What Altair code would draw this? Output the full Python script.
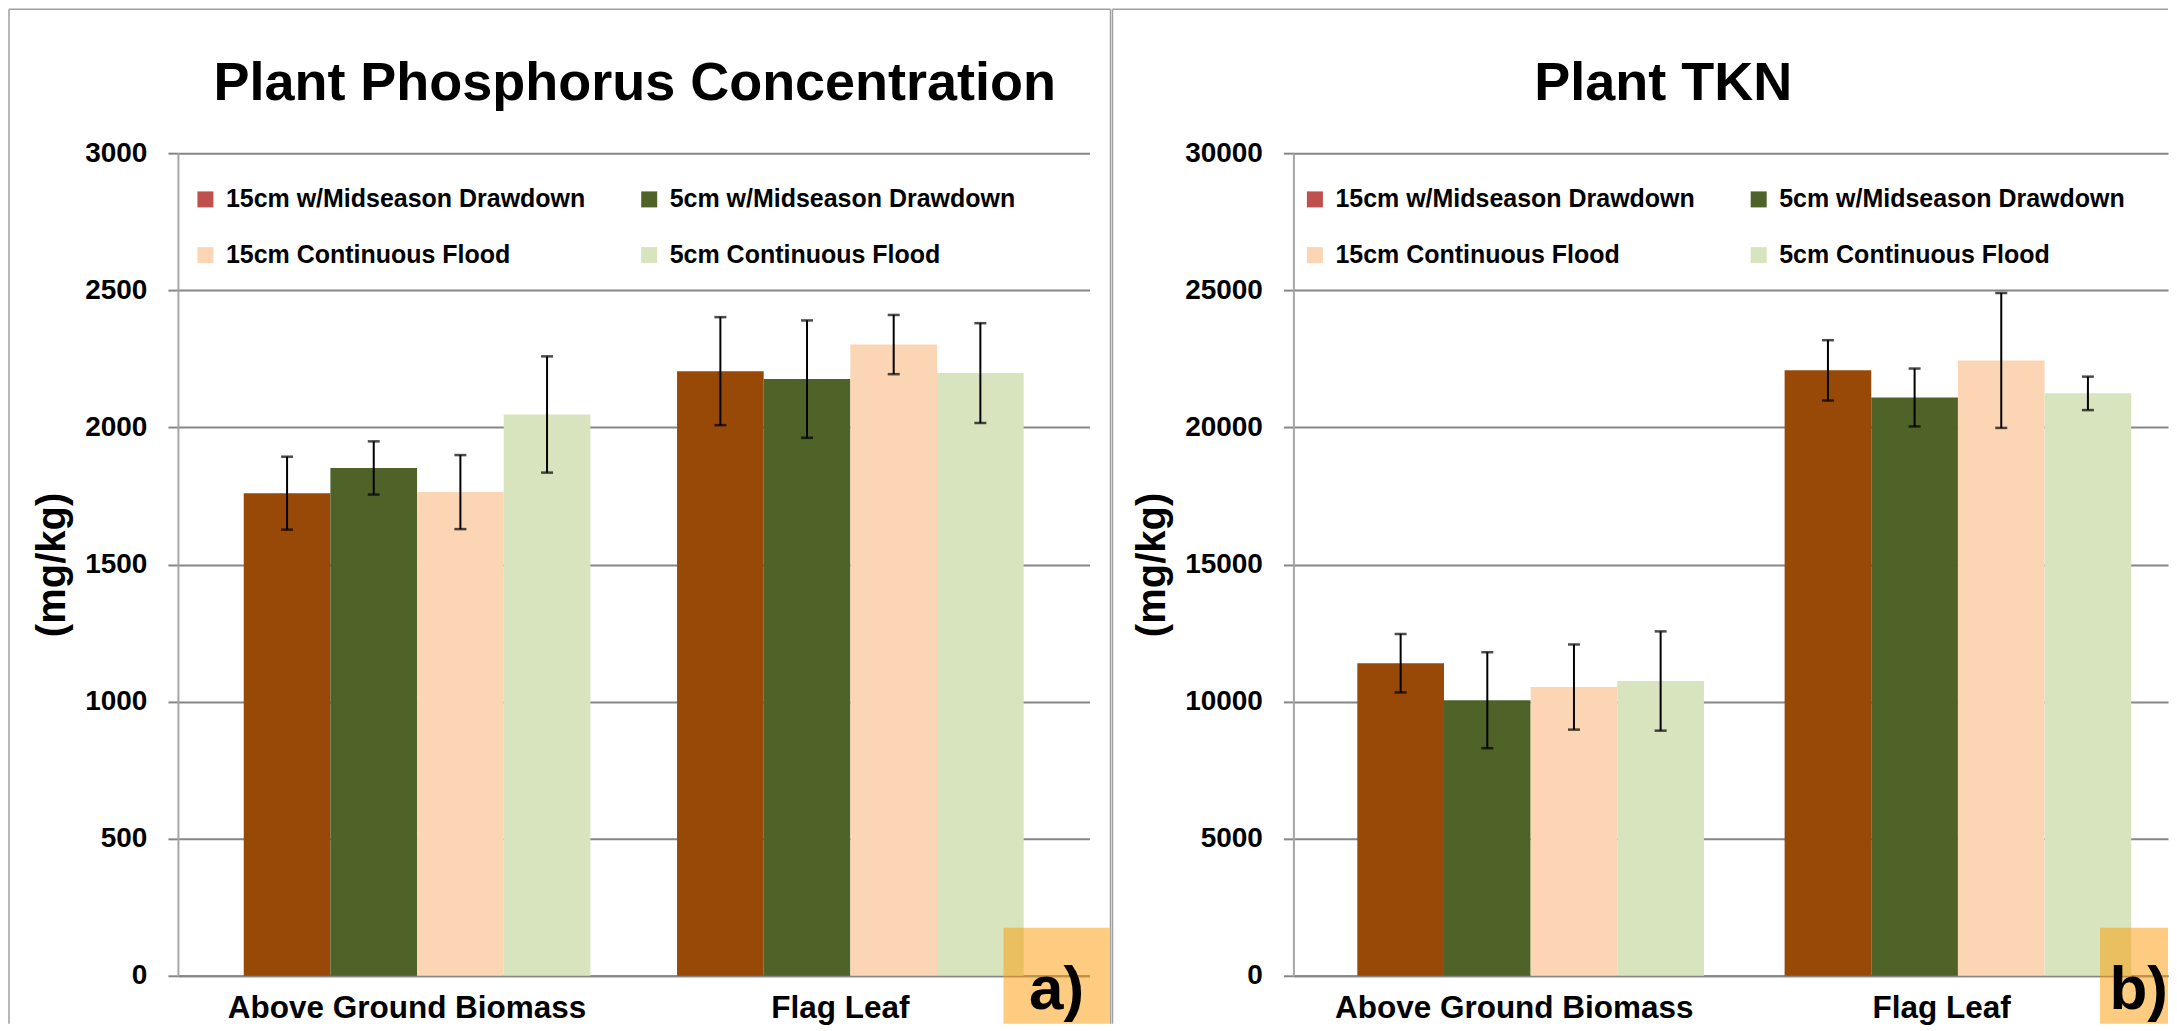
import altair as alt
import pandas as pd

# ---------------- data ----------------
categories = ["Above Ground Biomass", "Flag Leaf"]
series = ["15cm w/Midseason Drawdown", "5cm w/Midseason Drawdown",
          "15cm Continuous Flood", "5cm Continuous Flood"]
bar_colors = ["#984807", "#4F6228", "#FCD5B5", "#D7E4BD"]
legend_colors = ["#C0504D", "#4F6228", "#FCD5B5", "#D7E4BD"]

p_agb = [1760, 1852, 1764, 2047]
p_agb_err = [133, 97, 135, 212]
p_fl = [2205, 2176, 2302, 2198]
p_fl_err = [197, 214, 108, 182]

tkn_agb = [11400, 10050, 10530, 10750]
tkn_agb_err = [1065, 1750, 1553, 1810]
tkn_fl = [22080, 21090, 22440, 21240]
tkn_fl_err = [1100, 1055, 2460, 610]

panel_titles = ["Plant Phosphorus Concentration", "Plant TKN"]
panel_tags = ["a)", "b)"]
y_max = [3000, 30000]
y_step = [500, 5000]
y_title = "(mg/kg)"

FONT = "Liberation Sans"
GRID = "#868686"
FRAME = "#A0A0A0"
H = 823
series_idx = list(range(len(series)))


def make_df(agb, agb_err, fl, fl_err):
    rows = []
    for cat, vals, errs in zip(categories, [agb, fl], [agb_err, fl_err]):
        for i, (s, v, e) in enumerate(zip(series, vals, errs)):
            rows.append({"category": cat, "series": s, "sidx": i, "value": v,
                         "lo": v - e, "hi": v + e})
    return pd.DataFrame(rows)


def panel(df, title, tag, ymax, ystep, width, pad_outer, align, label_offset,
          title_dx, legend_x, box_x, box_x2, tag_x, tag_align, frame_left, frame_right):
    xenc = alt.X("category:N", sort=categories,
                 scale=alt.Scale(domain=categories, paddingInner=0.2,
                                 paddingOuter=pad_outer, align=align),
                 axis=alt.Axis(title=None, labelAngle=0, ticks=False, tickSize=0,
                               labelFont=FONT, labelFontSize=31.5, labelFontWeight="bold",
                               labelColor="black", labelPadding=42, labelLimit=800,
                               labelBaseline="alphabetic", labelOffset=label_offset,
                               domainColor=GRID, domainWidth=2, grid=False))
    xoff = alt.XOffset("series:N", sort=series,
                       scale=alt.Scale(domain=series, paddingInner=0, paddingOuter=0))
    yscale = alt.Scale(domain=[0, ymax], nice=False, zero=True)
    yenc = alt.Y("value:Q", scale=yscale,
                 axis=alt.Axis(values=list(range(0, ymax + 1, ystep)), format="d",
                               grid=True, gridColor=GRID, gridWidth=2,
                               domainColor="#A6A6A6", domainWidth=2,
                               tickColor=GRID, tickSize=10, tickWidth=2,
                               labelFont=FONT, labelFontSize=28, labelFontWeight="bold",
                               labelColor="black", labelPadding=21,
                               title=y_title, titleFont=FONT, titleFontSize=40,
                               titleFontWeight="bold", titleColor="black",
                               titlePadding=12))

    bars = alt.Chart(df).mark_bar().encode(
        x=xenc, xOffset=xoff, y=yenc,
        color=alt.Color("sidx:O",
                        scale=alt.Scale(domain=series_idx, range=bar_colors),
                        legend=None))

    # legend carrier: invisible points whose fill scale holds the legend swatch colours
    legend = alt.Chart(df).mark_square(size=0).encode(
        x=alt.X("category:N", sort=categories), xOffset=xoff,
        y=alt.Y("value:Q", scale=yscale),
        fill=alt.Fill("series:N", sort=series,
                      scale=alt.Scale(domain=series, range=legend_colors),
                      legend=alt.Legend(title=None, orient="none", legendX=legend_x,
                                        legendY=33.5, columns=2, direction="horizontal",
                                        columnPadding=51, rowPadding=30, padding=0,
                                        symbolType="square", symbolSize=256,
                                        symbolStrokeWidth=0, symbolOpacity=1,
                                        labelFont=FONT, labelFontSize=25,
                                        labelFontWeight="bold", labelColor="black",
                                        labelOffset=8, labelLimit=800)))

    err = alt.Chart(df).mark_rule(color="black", strokeWidth=2).encode(
        x=alt.X("category:N", sort=categories), xOffset=xoff,
        y=alt.Y("lo:Q", scale=yscale), y2="hi:Q")

    caps = alt.Chart(df).transform_fold(["lo", "hi"], as_=["end", "pos"]).mark_tick(
        color="black", thickness=2.5, size=12, orient="horizontal").encode(
        x=alt.X("category:N", sort=categories), xOffset=xoff,
        y=alt.Y("pos:Q", scale=yscale))

    tag_df = pd.DataFrame({"tag": [tag]})
    box = alt.Chart(tag_df).mark_rect(fill="#FB9902", opacity=0.5).encode(
        x=alt.value(box_x), x2=alt.value(box_x2), y=alt.value(775), y2=alt.value(871))
    tag_text = alt.Chart(tag_df).mark_text(
        font=FONT, fontSize=62, fontWeight="bold", color="black",
        align=tag_align, baseline="alphabetic").encode(
        x=alt.value(tag_x), y=alt.value(856), text="tag:N")

    frames = [
        alt.Chart(tag_df).mark_rule(color=FRAME, strokeWidth=1.5).encode(
            x=alt.value(frame_left), y=alt.value(-144), y2=alt.value(871)),
        alt.Chart(tag_df).mark_rule(color=FRAME, strokeWidth=1.5).encode(
            x=alt.value(frame_left), x2=alt.value(frame_right if frame_right else width),
            y=alt.value(-144)),
    ]
    if frame_right:
        frames.append(alt.Chart(tag_df).mark_rule(color=FRAME, strokeWidth=1.5).encode(
            x=alt.value(frame_right), y=alt.value(-144), y2=alt.value(871)))

    return alt.layer(bars, legend, err, caps, box, tag_text, *frames).properties(
        width=width, height=H,
        title=alt.TitleParams(title, font=FONT, fontSize=54, fontWeight="bold",
                              color="black", anchor="middle", frame="group",
                              baseline="alphabetic", offset=-92.75, dx=title_dx, dy=53))


left = panel(make_df(p_agb, p_agb_err, p_fl, p_fl_err), panel_titles[0], panel_tags[0],
             y_max[0], y_step[0], width=912, pad_outer=0.1519, align=0.5,
             label_offset=-10, title_dx=1, legend_x=15,
             box_x=826, box_x2=932, tag_x=879, tag_align="center",
             frame_left=-169, frame_right=933)

right = panel(make_df(tkn_agb, tkn_agb_err, tkn_fl, tkn_fl_err), panel_titles[1],
              panel_tags[1], y_max[1], y_step[1], width=875, pad_outer=0.1234,
              align=0.606, label_offset=-14, title_dx=-67.5, legend_x=9,
              box_x=807, box_x2=875, tag_x=875, tag_align="right",
              frame_left=-181, frame_right=None)

chart = alt.hconcat(left, right, spacing=204, bounds="flush").resolve_scale(
    x="independent", y="independent", color="independent", fill="independent"
).resolve_legend(color="independent", fill="independent").properties(
    padding=0, background="white"
).configure_view(stroke=None)

chart.save("out.html", embed_options={"renderer": "svg", "actions": False})
